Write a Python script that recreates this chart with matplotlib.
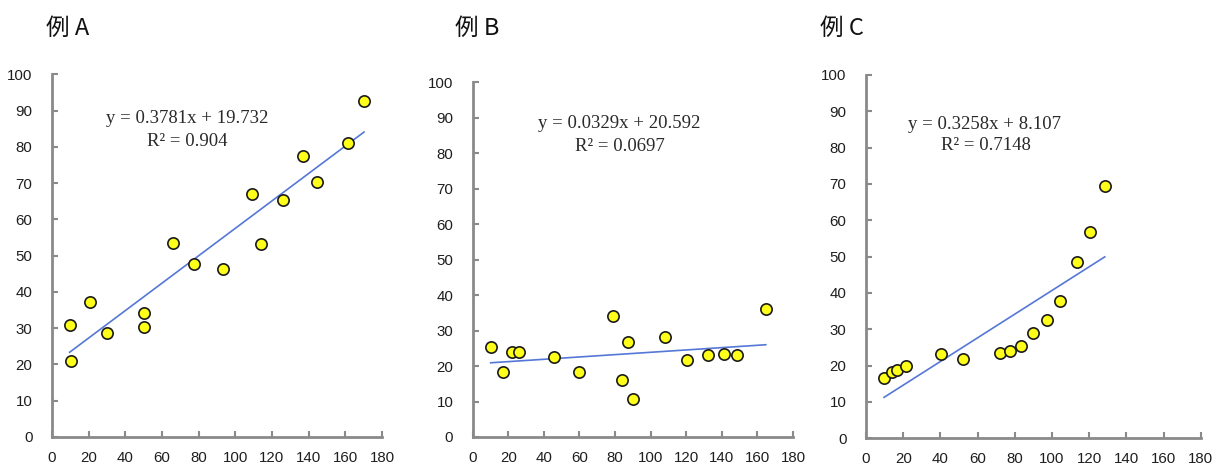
import matplotlib
matplotlib.use("Agg")
import matplotlib.pyplot as plt
import numpy as np

plt.rcParams['font.family'] = ['Noto Sans CJK JP', 'DejaVu Sans']

# ---- data ----
titles = ["例 A", "例 B", "例 C"]

a_x = [9.6, 10.2, 20.9, 30.2, 50.0, 50.0, 66.0, 77.6, 93.5, 109.3, 114.0, 126.2, 136.9, 144.5, 161.6, 170.2]
a_y = [30.9, 20.9, 37.2, 28.6, 34.3, 30.2, 53.6, 47.7, 46.3, 67.0, 53.3, 65.3, 77.4, 70.4, 81.1, 92.6]
a_fit = (0.3781, 19.732)
a_r2 = "0.904"

b_x = [10.1, 17.2, 22.1, 25.8, 45.5, 59.7, 78.6, 84.0, 87.0, 90.2, 108.3, 120.5, 132.1, 141.5, 148.4, 164.7]
b_y = [25.5, 18.4, 23.9, 23.9, 22.6, 18.4, 34.0, 16.0, 26.9, 10.6, 28.2, 21.8, 23.1, 23.4, 23.1, 36.1]
b_fit = (0.0329, 20.592)
b_r2 = "0.0697"

c_x = [9.7, 14.0, 16.9, 21.7, 40.3, 52.0, 71.9, 77.3, 83.5, 89.6, 97.3, 104.3, 113.3, 120.7, 128.4]
c_y = [16.7, 18.2, 18.9, 20.0, 23.2, 21.7, 23.5, 23.9, 25.3, 28.9, 32.6, 37.9, 48.4, 56.8, 69.4]
c_fit = (0.3258, 8.107)
c_r2 = "0.7148"

x_ticks = [0, 20, 40, 60, 80, 100, 120, 140, 160, 180]
y_ticks = [0, 10, 20, 30, 40, 50, 60, 70, 80, 90, 100]

# ---- layout ----
W, H = 1223, 468
fig = plt.figure(figsize=(W / 100, H / 100), dpi=100)

def rect(x0, x1, y0, y1):
    return [x0 / W, 1 - y0 / H, (x1 - x0) / W, (y0 - y1) / H]

panels = [
    dict(rect=rect(52, 382, 437, 74.3), xs=a_x, ys=a_y, fit=a_fit, r2=a_r2,
         eq_xy=(74, 87.7), r2_xy=(74, 81.6), title_x=46),
    dict(rect=rect(472.7, 793, 437, 82.3), xs=b_x, ys=b_y, fit=b_fit, r2=b_r2,
         eq_xy=(82.6, 88.4), r2_xy=(82.6, 82.0), title_x=455),
    dict(rect=rect(866, 1200.7, 438.3, 75), xs=c_x, ys=c_y, fit=c_fit, r2=c_r2,
         eq_xy=(63.5, 86.5), r2_xy=(64.5, 80.5), title_x=820),
]

spine_col = '#8a8a8a'
serif = ['Liberation Serif', 'DejaVu Serif']
for t, p in zip(titles, panels):
    ax = fig.add_axes(p['rect'])
    xs = np.array(p['xs'])
    ys = np.array(p['ys'])
    m, b = p['fit']
    lx = np.array([xs.min(), xs.max()])
    ax.plot(lx, m * lx + b, color='#5577d6', lw=1.2, zorder=2)
    ax.scatter(xs, ys, s=66, facecolor='#ffff1a', edgecolor='#1a1a1a', linewidth=1.2, zorder=3)
    ax.set_xlim(0, 180)
    ax.set_ylim(0, 100)
    ax.set_xticks(x_ticks)
    ax.set_yticks(y_ticks)
    for s in ['top', 'right']:
        ax.spines[s].set_visible(False)
    for s in ['left', 'bottom']:
        ax.spines[s].set_color(spine_col)
        ax.spines[s].set_linewidth(2)
    ax.tick_params(direction='in', length=4, width=1.5, color=spine_col,
                   labelsize=10.8, labelcolor='#1e1e1e')
    ax.tick_params(axis='x', pad=10)
    ax.tick_params(axis='y', pad=14)
    for lab in ax.get_xticklabels() + ax.get_yticklabels():
        lab.set_family(['Liberation Sans', 'DejaVu Sans'])
    ax.set_facecolor('none')
    ax.text(*p['eq_xy'], f"y = {m:g}x + {b:g}", ha='center', va='center',
            family=serif, fontsize=13.5, color='#2a2a2a')
    ax.text(*p['r2_xy'], f"R² = {p['r2']}", ha='center', va='center',
            family=serif, fontsize=13.5, color='#2a2a2a')
    fig.text(p['title_x'] / W, 1 - 28 / H, t, ha='left', va='center', fontsize=17,
             color='#111111')

fig.savefig('out.png', dpi=100)
